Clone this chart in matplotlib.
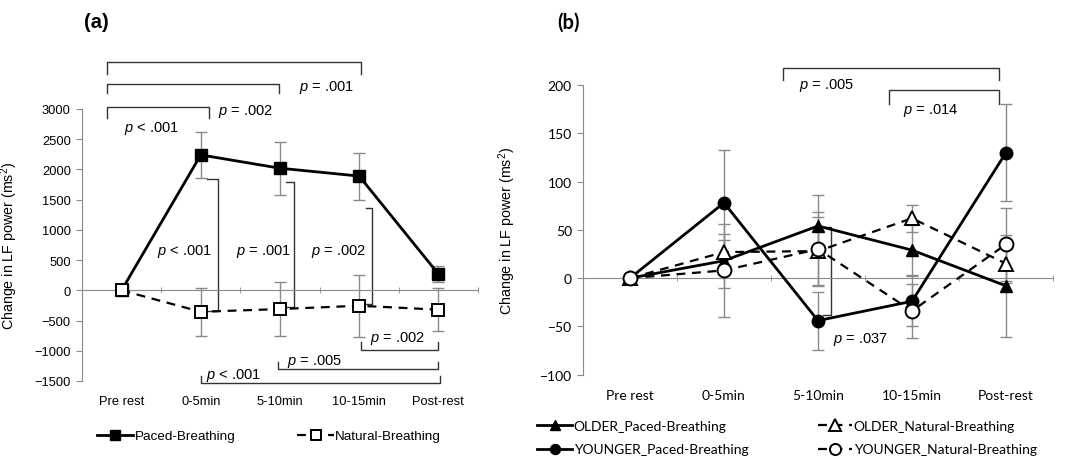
import numpy as np
import matplotlib
matplotlib.use('Agg')
import matplotlib.pyplot as plt

plt.rcParams['mathtext.fontset'] = 'custom'
plt.rcParams['mathtext.it'] = 'Liberation Sans:italic'
plt.rcParams['mathtext.rm'] = 'Liberation Sans'

# =========================
# Data
# =========================
categories = ['Pre rest', '0-5min', '5-10min', '10-15min', 'Post-rest']

# panel (a)
paced = [0, 2240, 2020, 1890, 270]
paced_err = [0, 385, 440, 390, 140]
natural = [0, -355, -310, -255, -320]
natural_err = [0, 395, 450, 515, 355]

# panel (b)
older_paced = [0, 18, 54, 29, -8]
older_paced_err = [0, 28, 32, 26, 53]
older_natural = [0, 27, 28, 62, 15]
older_natural_err = [0, 13, 35, 14, 20]
younger_paced = [0, 78, -44, -24, 130]
younger_paced_err = [0, 55, 30, 26, 50]
younger_natural = [0, 8, 30, -34, 35]
younger_natural_err = [0, 48, 38, 28, 38]

# significance brackets: (x0, x1, y, leg_end, label, label_x, label_y)
a_top = [(-0.185, 3.02, 3775, 3576, '$p$ = .001', 2.245, 3377),
         (-0.185, 1.985, 3412, 3262, '$p$ = .002', 1.215, 2972),
         (-0.185, 1.11, 3030, 2848, '$p$ < .001', 0.025, 2699)]
a_bottom = [(3.02, 4.0, -988, -851, '$p$ = .002', 3.14, -778),
            (1.97, 3.99, -1303, -1182, '$p$ = .005', 2.085, -1165),
            (1.005, 4.02, -1540, -1414, '$p$ < .001', 1.07, -1397)]
# vertical: (x_in_top, x_out, y_top, x_in_bottom, y_bottom, label, label_x, label_y)
a_vert = [(1.08, 1.22, 1843, 1.08, -337, '$p$ < .001', 1.14, 655),
          (2.07, 2.18, 1788, 2.07, -270, '$p$ = .001', 2.14, 655),
          (3.08, 3.16, 1357, 3.08, -220, '$p$ = .002', 3.09, 655)]

b_top = [(1.63, 3.93, 217.6, 205, '$p$ = .005', 1.80, 201),
         (2.755, 3.93, 195, 180.3, '$p$ = .014', 2.90, 175)]
b_vert = [(2.05, 2.14, 53, 2.05, -38, '$p$ = .037', 2.16, -63)]

GRAY = '#8a8a8a'
BR = '#333333'
x = np.arange(len(categories))


def style_axis(ax, yticks, font, fsize):
    for s in ['top', 'right']:
        ax.spines[s].set_visible(False)
    ax.spines['left'].set_color(GRAY)
    ax.spines['bottom'].set_color(GRAY)
    ax.spines['bottom'].set_position(('data', 0))
    ax.set_xlim(-0.5, 4.5)
    ax.set_ylim(yticks[0], yticks[-1])
    ax.set_xticks(x)
    ax.set_xticks(np.arange(-0.5, 5), minor=True)
    ax.tick_params(axis='x', which='major', length=0, labelbottom=False)
    ax.tick_params(axis='x', which='minor', length=4, direction='inout', color=GRAY)
    ax.set_yticks(yticks)
    ax.tick_params(axis='y', length=4, color=GRAY, labelsize=fsize,
                   labelfontfamily=font, pad=4)
    sec = ax.secondary_xaxis('bottom')
    sec.set_xticks(x, labels=categories)
    sec.tick_params(length=0, pad=10, labelsize=fsize, labelfontfamily=font)
    sec.spines['bottom'].set_visible(False)


def draw_brackets(ax, top=(), bottom=(), vert=(), fs=10.5, vert_ha='left'):
    for x0, x1, y, yl, lab, lx, ly in list(top) + list(bottom):
        ax.plot([x0, x0, x1, x1], [yl, y, y, yl], color=BR, lw=1, clip_on=False)
        ax.text(lx, ly, lab, ha='left', va='center', fontsize=fs,
                family='Liberation Sans')
    for xi, xo, yt, xb, yb, lab, lx, ly in vert:
        ax.plot([xi, xo, xo, xb], [yt, yt, yb, yb], color=BR, lw=1, clip_on=False)
        ax.text(lx, ly, lab, ha=vert_ha, va='center', fontsize=fs,
                family='Liberation Sans')


fig = plt.figure(figsize=(10.77, 4.6), dpi=100)
ax_a = fig.add_axes([0.0761, 0.1696, 0.3677, 0.5913])
ax_b = fig.add_axes([0.5413, 0.1833, 0.4364, 0.6297])

eb = dict(fmt='none', ecolor=GRAY, elinewidth=1, capsize=4.5, capthick=1, zorder=2)

# =========================
# Panel (a)
# =========================
style_axis(ax_a, np.arange(-1500, 3001, 500), 'Liberation Sans', 9.3)
ax_a.errorbar(x, paced, yerr=paced_err, **eb)
ax_a.errorbar(x, natural, yerr=natural_err, **eb)
draw_brackets(ax_a, a_top, a_bottom, a_vert, vert_ha='right')
l1, = ax_a.plot(x, paced, '-', color='black', lw=2, marker='s', ms=9,
                mfc='black', mec='black', zorder=3, label='Paced-Breathing')
l2, = ax_a.plot(x, natural, '--', color='black', lw=1.6, dashes=(4, 3),
                marker='s', ms=9, mfc='white', mec='black', mew=1.4, zorder=4,
                label='Natural-Breathing')
ax_a.set_ylabel('Change in LF power (ms$^2$)', fontsize=10.3, family='Liberation Sans')
ax_a.yaxis.set_label_coords(-0.157, 0.5)
ax_a.legend(handles=[l1, l2], loc='center left', bbox_to_anchor=(0.09, 0.05),
            bbox_transform=fig.transFigure, ncol=2, frameon=False,
            handlelength=2.7, handletextpad=0.1, columnspacing=4.6,
            borderaxespad=0, borderpad=0, markerscale=0.8,
            prop={'family': 'Liberation Sans', 'size': 9.7})
fig.text(0.078, 0.95, '(a)', fontsize=14.5, fontweight='bold',
         family='Liberation Sans', ha='left', va='center')

# =========================
# Panel (b)
# =========================
style_axis(ax_b, np.arange(-100, 201, 50), 'Lato', 10)
for yv, ev in [(older_paced, older_paced_err), (older_natural, older_natural_err),
               (younger_paced, younger_paced_err), (younger_natural, younger_natural_err)]:
    ax_b.errorbar(x, yv, yerr=ev, **eb)
draw_brackets(ax_b, b_top, (), b_vert)
h1, = ax_b.plot(x, older_paced, '-', color='black', lw=2, marker='^', ms=9,
                mfc='black', mec='black', zorder=3, label='OLDER_Paced-Breathing')
h3, = ax_b.plot(x, older_natural, '--', color='black', lw=1.6, dashes=(4, 3),
                marker='^', ms=10, mfc='white', mec='black', mew=1.4, zorder=4,
                label='OLDER_Natural-Breathing')
h2, = ax_b.plot(x, younger_paced, '-', color='black', lw=2, marker='o', ms=9,
                mfc='black', mec='black', zorder=3, label='YOUNGER_Paced-Breathing')
h4, = ax_b.plot(x, younger_natural, '--', color='black', lw=1.6, dashes=(4, 3),
                marker='o', ms=10, mfc='white', mec='black', mew=1.4, zorder=4,
                label='YOUNGER_Natural-Breathing')
ax_b.set_ylabel('Change in LF power (ms$^2$)', fontsize=10.3, family='Liberation Sans')
ax_b.yaxis.set_label_coords(-0.138, 0.5)
ax_b.legend(handles=[h1, h2, h3, h4], loc='center left', bbox_to_anchor=(0.499, 0.046),
            bbox_transform=fig.transFigure, ncol=2, frameon=False,
            handlelength=2.5, handletextpad=0.1, columnspacing=5.0,
            labelspacing=0.8, borderaxespad=0, borderpad=0, markerscale=0.8,
            prop={'family': 'Lato', 'size': 10})
fig.text(0.517, 0.95, '(b)', fontsize=14.5, fontweight='bold',
         family='Lato', ha='left', va='center')

fig.savefig('out.png', dpi=100)
